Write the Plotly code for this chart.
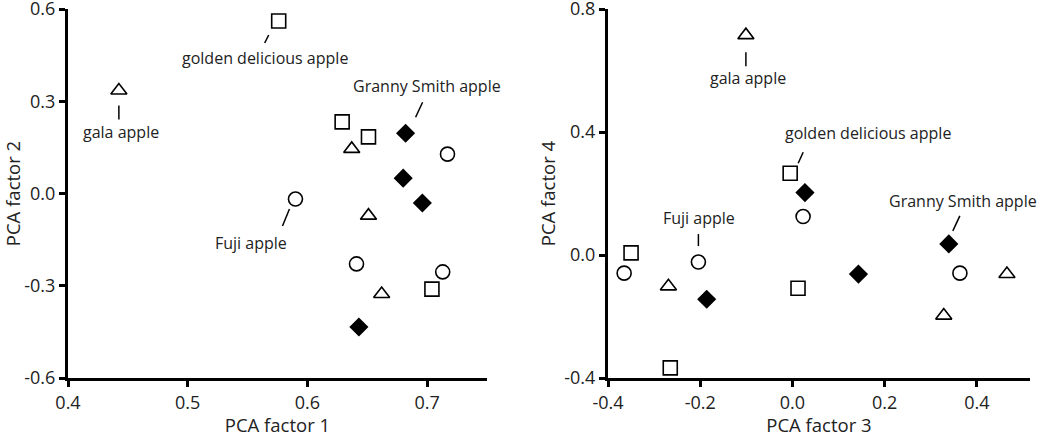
import plotly.graph_objects as go

# ---- data: left panel (PCA factor 1 vs 2) ----
sq1_x = [0.576, 0.629, 0.651, 0.704]
sq1_y = [0.561, 0.233, 0.184, -0.311]
tri1_x = [0.4425, 0.637, 0.651, 0.662]
tri1_y = [0.335, 0.145, -0.072, -0.327]
dia1_x = [0.682, 0.680, 0.696, 0.643]
dia1_y = [0.196, 0.050, -0.031, -0.434]
cir1_x = [0.717, 0.590, 0.641, 0.713]
cir1_y = [0.128, -0.018, -0.229, -0.255]

# ---- data: right panel (PCA factor 3 vs 4) ----
sq2_x = [-0.005, -0.350, 0.012, -0.265]
sq2_y = [0.266, 0.007, -0.108, -0.367]
tri2_x = [-0.101, -0.269, 0.465, 0.328]
tri2_y = [0.715, -0.102, -0.062, -0.197]
dia2_x = [0.027, 0.339, -0.186, 0.143]
dia2_y = [0.203, 0.036, -0.144, -0.062]
cir2_x = [0.023, -0.204, -0.365, 0.363]
cir2_y = [0.125, -0.023, -0.059, -0.059]

x1_ticks = [0.4, 0.5, 0.6, 0.7]
x1_text = ["0.4", "0.5", "0.6", "0.7"]
y1_ticks = [-0.6, -0.3, 0.0, 0.3, 0.6]
y1_text = ["-0.6", "-0.3", "0.0", "0.3", "0.6"]
x2_ticks = [-0.4, -0.2, 0.0, 0.2, 0.4]
x2_text = ["-0.4", "-0.2", "0.0", "0.2", "0.4"]
y2_ticks = [-0.4, 0.0, 0.4, 0.8]
y2_text = ["-0.4", "0.0", "0.4", "0.8"]

FONT = "Open Sans"

fig = go.Figure()

def add_series(xs, ys, symbol, filled, xa, ya):
    fig.add_trace(go.Scatter(
        x=xs, y=ys, mode="markers", xaxis=xa, yaxis=ya, showlegend=False,
        marker=dict(
            symbol=symbol,
            size=13 if filled else 14,
            color="black" if filled else "white",
            line=dict(color="black", width=1.6),
        ),
        cliponaxis=False,
    ))

add_series(sq1_x, sq1_y, "square", False, "x", "y")
add_series(tri1_x, tri1_y, "triangle-up", False, "x", "y")
add_series(dia1_x, dia1_y, "diamond", True, "x", "y")
add_series(cir1_x, cir1_y, "circle", False, "x", "y")

add_series(sq2_x, sq2_y, "square", False, "x2", "y2")
add_series(tri2_x, tri2_y, "triangle-up", False, "x2", "y2")
add_series(dia2_x, dia2_y, "diamond", True, "x2", "y2")
add_series(cir2_x, cir2_y, "circle", False, "x2", "y2")

# labels: (text, x, y, axis suffix, leader line pixel offsets, text pixel offset)
# offsets are in screen pixels, +y is up
labels = [
    ("gala apple", tri1_x[0], tri1_y[0], "", (0, -15, 0, -29), (2, -42)),
    ("golden delicious apple", sq1_x[0], sq1_y[0], "", (-10, -14, -14, -22), (-14, -37)),
    ("Granny Smith apple", dia1_x[0], dia1_y[0], "", (10, 16, 17, 31), (21, 47)),
    ("Fuji apple", cir1_x[1], cir1_y[1], "", (-6, -10, -13, -27), (-44, -44)),
    ("gala apple", tri2_x[0], tri2_y[0], "2", (0, -17, 0, -31), (2, -43)),
    ("golden delicious apple", sq2_x[0], sq2_y[0], "2", (8, 10, 13, 21), (78, 40)),
    ("Granny Smith apple", dia2_x[1], dia2_y[1], "2", (4, 13, 11, 28), (14, 43)),
    ("Fuji apple", cir2_x[1], cir2_y[1], "2", (0, 16, 0, 28), (1, 44)),
]

for text, px, py, ax, (lx0, ly0, lx1, ly1), (tx, ty) in labels:
    fig.add_shape(
        type="line", xref="x" + ax, yref="y" + ax,
        xsizemode="pixel", ysizemode="pixel",
        xanchor=px, yanchor=py,
        x0=lx0, y0=ly0, x1=lx1, y1=ly1,
        line=dict(color="black", width=1.5),
    )
    fig.add_annotation(
        x=px, y=py, xref="x" + ax, yref="y" + ax, text=text, showarrow=False,
        xshift=tx, yshift=ty, font=dict(family=FONT, size=16, color="#222"),
    )

axis_common = dict(
    showgrid=False, zeroline=False, showline=True, linecolor="black", linewidth=3,
    ticks="outside", ticklen=6, tickwidth=3, tickcolor="black",
    tickfont=dict(family=FONT, size=18, color="#222"),
    title_font=dict(family=FONT, size=18.5, color="#222"),
    automargin=False, ticklabeloverflow="allow",
)

fig.update_layout(
    width=1050, height=437,
    margin=dict(l=0, r=0, t=9, b=59),
    plot_bgcolor="white", paper_bgcolor="white",
    xaxis=dict(domain=[68 / 1050, 487 / 1050], range=[0.4, 0.75], anchor="y",
               tickvals=x1_ticks, ticktext=x1_text,
               title=dict(text="PCA factor 1", standoff=2), **axis_common),
    yaxis=dict(domain=[0, 1], range=[-0.6, 0.6], anchor="x",
               tickvals=y1_ticks, ticktext=y1_text,
               title=dict(text="PCA factor 2", standoff=4), **axis_common),
    xaxis2=dict(domain=[608 / 1050, 1030 / 1050], range=[-0.4, 0.515], anchor="y2",
                tickvals=x2_ticks, ticktext=x2_text,
                title=dict(text="PCA factor 3", standoff=2), **axis_common),
    yaxis2=dict(domain=[0, 1], range=[-0.4, 0.8], anchor="x2",
                tickvals=y2_ticks, ticktext=y2_text,
                title=dict(text="PCA factor 4", standoff=4), **axis_common),
)

# the page body has a default 8px margin; drop it so the figure sits at (0, 0)
fig.write_html("out.html", config={"displayModeBar": False},
               post_script="document.body.style.margin='0';")
